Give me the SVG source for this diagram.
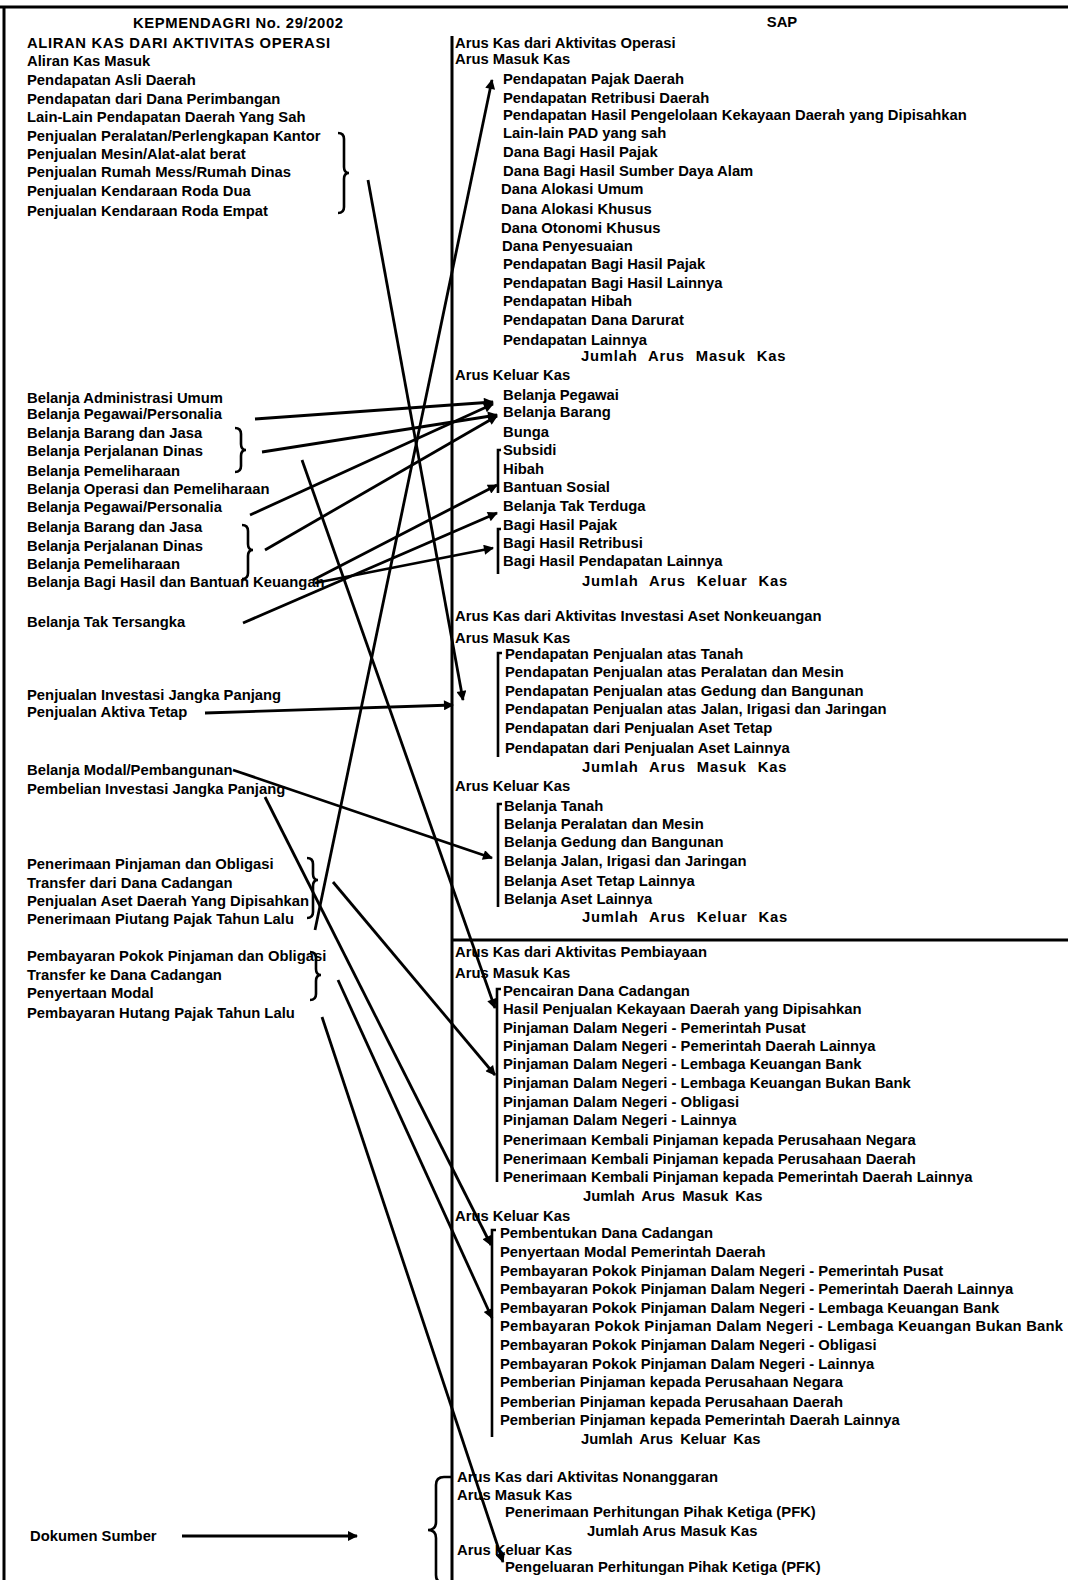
<svg xmlns="http://www.w3.org/2000/svg" width="1068" height="1580" viewBox="0 0 1068 1580">
  <defs>
    <style>
      .t { font-family: "Liberation Sans", Arial, sans-serif; font-size: 14.8px; font-weight: bold; fill: #000; }
      .h { text-anchor: middle; }
      .sum { word-spacing: 6px; letter-spacing: 0.8px; }
      .sum2 { word-spacing: 3px; }
      .rule { stroke: #000; stroke-width: 3; fill: none; }
      .brk { stroke: #000; stroke-width: 2.6; fill: none; }
      .con { stroke: #000; stroke-width: 2.8; fill: none; marker-end: url(#ah); }
    </style>
    <marker id="ah" viewBox="0 0 10 10" refX="9" refY="5" markerWidth="13" markerHeight="10" markerUnits="userSpaceOnUse" orient="auto">
      <path d="M0,0 L10,5 L0,10 z" fill="#000"/>
    </marker>
  </defs>
  <rect width="1068" height="1580" fill="#fff"/>

  <!-- frame -->
  <g id="frame">
    <line class="rule" x1="0" y1="7" x2="1068" y2="7"/>
    <line class="rule" x1="4" y1="7" x2="4" y2="1580"/>
    <line class="rule" x1="452" y1="36" x2="452" y2="1580"/>
    <line class="rule" x1="452" y1="940" x2="1068" y2="940"/>
  </g>

  <!-- left column: KEPMENDAGRI No. 29/2002 -->
  <g id="kepmendagri">
    <text class="t h" x="238" y="28" textLength="210" lengthAdjust="spacing">KEPMENDAGRI No. 29/2002</text>
    <text class="t" x="27" y="48" textLength="303" lengthAdjust="spacing">ALIRAN KAS DARI AKTIVITAS OPERASI</text>
    <text class="t" x="27" y="66">Aliran Kas Masuk</text>
    <text class="t" x="27" y="85">Pendapatan Asli Daerah</text>
    <text class="t" x="27" y="104">Pendapatan dari Dana Perimbangan</text>
    <text class="t" x="27" y="122">Lain-Lain Pendapatan Daerah Yang Sah</text>
    <text class="t" x="27" y="141">Penjualan Peralatan/Perlengkapan Kantor</text>
    <text class="t" x="27" y="159">Penjualan Mesin/Alat-alat berat</text>
    <text class="t" x="27" y="177">Penjualan Rumah Mess/Rumah Dinas</text>
    <text class="t" x="27" y="196">Penjualan Kendaraan Roda Dua</text>
    <text class="t" x="27" y="216">Penjualan Kendaraan Roda Empat</text>

    <text class="t" x="27" y="403">Belanja Administrasi Umum</text>
    <text class="t" x="27" y="419">Belanja Pegawai/Personalia</text>
    <text class="t" x="27" y="438">Belanja Barang dan Jasa</text>
    <text class="t" x="27" y="456">Belanja Perjalanan Dinas</text>
    <text class="t" x="27" y="476">Belanja Pemeliharaan</text>
    <text class="t" x="27" y="494">Belanja Operasi dan Pemeliharaan</text>
    <text class="t" x="27" y="512">Belanja Pegawai/Personalia</text>
    <text class="t" x="27" y="532">Belanja Barang dan Jasa</text>
    <text class="t" x="27" y="551">Belanja Perjalanan Dinas</text>
    <text class="t" x="27" y="569">Belanja Pemeliharaan</text>
    <text class="t" x="27" y="587">Belanja Bagi Hasil dan Bantuan Keuangan</text>
    <text class="t" x="27" y="627">Belanja Tak Tersangka</text>

    <text class="t" x="27" y="700">Penjualan Investasi Jangka Panjang</text>
    <text class="t" x="27" y="717">Penjualan Aktiva Tetap</text>
    <text class="t" x="27" y="775">Belanja Modal/Pembangunan</text>
    <text class="t" x="27" y="794">Pembelian Investasi Jangka Panjang</text>

    <text class="t" x="27" y="869">Penerimaan Pinjaman dan Obligasi</text>
    <text class="t" x="27" y="888">Transfer dari Dana Cadangan</text>
    <text class="t" x="27" y="906">Penjualan Aset Daerah Yang Dipisahkan</text>
    <text class="t" x="27" y="924">Penerimaan Piutang Pajak Tahun Lalu</text>
    <text class="t" x="27" y="961">Pembayaran Pokok Pinjaman dan Obligasi</text>
    <text class="t" x="27" y="980">Transfer ke Dana Cadangan</text>
    <text class="t" x="27" y="998">Penyertaan Modal</text>
    <text class="t" x="27" y="1018">Pembayaran Hutang Pajak Tahun Lalu</text>

    <text class="t" x="30" y="1541">Dokumen Sumber</text>
  </g>

  <!-- left braces -->
  <g id="left-braces">
    <path class="brk" d="M338,133 q6,0 6,6 v28 q0,6 5,6 q-5,0 -5,6 v28 q0,6 -6,6"/>
    <path class="brk" d="M235,428 q6,0 6,6 v10 q0,6 5,6 q-5,0 -5,6 v10 q0,6 -6,6"/>
    <path class="brk" d="M242,525 q6,0 6,6 v13 q0,6 5,6 q-5,0 -5,6 v17 q0,6 -6,6"/>
    <path class="brk" d="M307,858 q6,0 6,6 v10 q0,6 5,6 q-5,0 -5,6 v26 q0,6 -6,6"/>
    <path class="brk" d="M310,952 q6,0 6,6 v11 q0,6 5,6 q-5,0 -5,6 v13 q0,6 -6,6"/>
    <path class="brk" d="M452,1477 h-8 q-8,0 -8,8 v37 q0,8 -8,8 q8,0 8,8 v37 q0,8 8,8 h8"/>
  </g>

  <!-- right column: SAP -->
  <g id="sap">
    <text class="t h" x="782" y="27">SAP</text>
    <text class="t" x="455" y="48">Arus Kas dari Aktivitas Operasi</text>
    <text class="t" x="455" y="64">Arus Masuk Kas</text>
    <text class="t" x="503" y="84">Pendapatan Pajak Daerah</text>
    <text class="t" x="503" y="103">Pendapatan Retribusi Daerah</text>
    <text class="t" x="503" y="120">Pendapatan Hasil Pengelolaan Kekayaan Daerah yang Dipisahkan</text>
    <text class="t" x="503" y="138">Lain-lain PAD yang sah</text>
    <text class="t" x="503" y="157">Dana Bagi Hasil Pajak</text>
    <text class="t" x="503" y="176">Dana Bagi Hasil Sumber Daya Alam</text>
    <text class="t" x="501" y="194">Dana Alokasi Umum</text>
    <text class="t" x="501" y="214">Dana Alokasi Khusus</text>
    <text class="t" x="501" y="233">Dana Otonomi Khusus</text>
    <text class="t" x="502" y="251">Dana Penyesuaian</text>
    <text class="t" x="503" y="269">Pendapatan Bagi Hasil Pajak</text>
    <text class="t" x="503" y="288">Pendapatan Bagi Hasil Lainnya</text>
    <text class="t" x="503" y="306">Pendapatan Hibah</text>
    <text class="t" x="503" y="325">Pendapatan Dana Darurat</text>
    <text class="t" x="503" y="345">Pendapatan Lainnya</text>
    <text class="t sum" x="581" y="361">Jumlah Arus Masuk Kas</text>

    <text class="t" x="455" y="380">Arus Keluar Kas</text>
    <text class="t" x="503" y="400">Belanja Pegawai</text>
    <text class="t" x="503" y="417">Belanja Barang</text>
    <text class="t" x="503" y="437">Bunga</text>
    <text class="t" x="503" y="455">Subsidi</text>
    <text class="t" x="503" y="474">Hibah</text>
    <text class="t" x="503" y="492">Bantuan Sosial</text>
    <text class="t" x="503" y="511">Belanja Tak Terduga</text>
    <text class="t" x="503" y="530">Bagi Hasil Pajak</text>
    <text class="t" x="503" y="548">Bagi Hasil Retribusi</text>
    <text class="t" x="503" y="566">Bagi Hasil Pendapatan Lainnya</text>
    <text class="t sum" x="582" y="586">Jumlah Arus Keluar Kas</text>

    <text class="t" x="455" y="621">Arus Kas dari Aktivitas Investasi Aset Nonkeuangan</text>
    <text class="t" x="455" y="643">Arus Masuk Kas</text>
    <text class="t" x="505" y="659">Pendapatan Penjualan atas Tanah</text>
    <text class="t" x="505" y="677">Pendapatan Penjualan atas Peralatan dan Mesin</text>
    <text class="t" x="505" y="696">Pendapatan Penjualan atas Gedung dan Bangunan</text>
    <text class="t" x="505" y="714">Pendapatan Penjualan atas Jalan, Irigasi dan Jaringan</text>
    <text class="t" x="505" y="733">Pendapatan dari Penjualan Aset Tetap</text>
    <text class="t" x="505" y="753">Pendapatan dari Penjualan Aset Lainnya</text>
    <text class="t sum" x="582" y="772">Jumlah Arus Masuk Kas</text>

    <text class="t" x="455" y="791">Arus Keluar Kas</text>
    <text class="t" x="504" y="811">Belanja Tanah</text>
    <text class="t" x="504" y="829">Belanja Peralatan dan Mesin</text>
    <text class="t" x="504" y="847">Belanja Gedung dan Bangunan</text>
    <text class="t" x="504" y="866">Belanja Jalan, Irigasi dan Jaringan</text>
    <text class="t" x="504" y="886">Belanja Aset Tetap Lainnya</text>
    <text class="t" x="504" y="904">Belanja Aset Lainnya</text>
    <text class="t sum" x="582" y="922">Jumlah Arus Keluar Kas</text>

    <text class="t" x="455" y="957">Arus Kas dari Aktivitas Pembiayaan</text>
    <text class="t" x="455" y="978">Arus Masuk Kas</text>
    <text class="t" x="503" y="996">Pencairan Dana Cadangan</text>
    <text class="t" x="503" y="1014">Hasil Penjualan Kekayaan Daerah yang Dipisahkan</text>
    <text class="t" x="503" y="1033">Pinjaman Dalam Negeri - Pemerintah Pusat</text>
    <text class="t" x="503" y="1051">Pinjaman Dalam Negeri - Pemerintah Daerah Lainnya</text>
    <text class="t" x="503" y="1069">Pinjaman Dalam Negeri - Lembaga Keuangan Bank</text>
    <text class="t" x="503" y="1088">Pinjaman Dalam Negeri - Lembaga Keuangan Bukan Bank</text>
    <text class="t" x="503" y="1107">Pinjaman Dalam Negeri - Obligasi</text>
    <text class="t" x="503" y="1125">Pinjaman Dalam Negeri - Lainnya</text>
    <text class="t" x="503" y="1145">Penerimaan Kembali Pinjaman kepada Perusahaan Negara</text>
    <text class="t" x="503" y="1164">Penerimaan Kembali Pinjaman kepada Perusahaan Daerah</text>
    <text class="t" x="503" y="1182">Penerimaan Kembali Pinjaman kepada Pemerintah Daerah Lainnya</text>
    <text class="t sum2" x="583" y="1201">Jumlah Arus Masuk Kas</text>

    <text class="t" x="455" y="1221">Arus Keluar Kas</text>
    <text class="t" x="500" y="1238">Pembentukan Dana Cadangan</text>
    <text class="t" x="500" y="1257">Penyertaan Modal Pemerintah Daerah</text>
    <text class="t" x="500" y="1276">Pembayaran Pokok Pinjaman Dalam Negeri - Pemerintah Pusat</text>
    <text class="t" x="500" y="1294">Pembayaran Pokok Pinjaman Dalam Negeri - Pemerintah Daerah Lainnya</text>
    <text class="t" x="500" y="1313">Pembayaran Pokok Pinjaman Dalam Negeri - Lembaga Keuangan Bank</text>
    <text class="t" x="500" y="1331" textLength="563" lengthAdjust="spacing">Pembayaran Pokok Pinjaman Dalam Negeri - Lembaga Keuangan Bukan Bank</text>
    <text class="t" x="500" y="1350">Pembayaran Pokok Pinjaman Dalam Negeri - Obligasi</text>
    <text class="t" x="500" y="1369">Pembayaran Pokok Pinjaman Dalam Negeri - Lainnya</text>
    <text class="t" x="500" y="1387">Pemberian Pinjaman kepada Perusahaan Negara</text>
    <text class="t" x="500" y="1407">Pemberian Pinjaman kepada Perusahaan Daerah</text>
    <text class="t" x="500" y="1425">Pemberian Pinjaman kepada Pemerintah Daerah Lainnya</text>
    <text class="t sum2" x="581" y="1444">Jumlah Arus Keluar Kas</text>

    <text class="t" x="457" y="1482">Arus Kas dari Aktivitas Nonanggaran</text>
    <text class="t" x="457" y="1500">Arus Masuk Kas</text>
    <text class="t" x="505" y="1517">Penerimaan Perhitungan Pihak Ketiga (PFK)</text>
    <text class="t" x="587" y="1536">Jumlah Arus Masuk Kas</text>
    <text class="t" x="457" y="1555">Arus Keluar Kas</text>
    <text class="t" x="505" y="1572">Pengeluaran Perhitungan Pihak Ketiga (PFK)</text>
  </g>

  <!-- right-hand group brackets -->
  <g id="right-brackets">
    <path class="brk" d="M501,450 h-3 v43"/>
    <path class="brk" d="M501,529 h-3 v45"/>
    <path class="brk" d="M502,653 h-4 v104"/>
    <path class="brk" d="M502,804 h-4 v103"/>
    <path class="brk" d="M501,989 h-4 v193"/>
    <path class="brk" d="M496,1230 h-4 v207"/>
  </g>

  <!-- connectors -->
  <g id="connectors">
    <line class="con" x1="368" y1="180" x2="463" y2="700"/>
    <line class="con" x1="315" y1="930" x2="492" y2="80"/>
    <line class="con" x1="255" y1="419" x2="493" y2="402"/>
    <line class="con" x1="250" y1="515" x2="493" y2="404"/>
    <line class="con" x1="262" y1="452" x2="497" y2="415"/>
    <line class="con" x1="265" y1="550" x2="497" y2="416"/>
    <line class="con" x1="313" y1="580" x2="497" y2="485"/>
    <line class="con" x1="315" y1="583" x2="493" y2="548"/>
    <line class="con" x1="243" y1="623" x2="497" y2="513"/>
    <line class="con" x1="302" y1="460" x2="495" y2="1008"/>
    <line class="con" x1="205" y1="713" x2="453" y2="705"/>
    <line class="con" x1="233" y1="770" x2="492" y2="858"/>
    <line class="con" x1="265" y1="797" x2="491" y2="1245"/>
    <line class="con" x1="333" y1="882" x2="495" y2="1075"/>
    <line class="con" x1="338" y1="980" x2="492" y2="1318"/>
    <line class="con" x1="322" y1="1017" x2="503" y2="1562"/>
    <line class="con" x1="182" y1="1536" x2="357" y2="1536"/>
  </g>
</svg>
